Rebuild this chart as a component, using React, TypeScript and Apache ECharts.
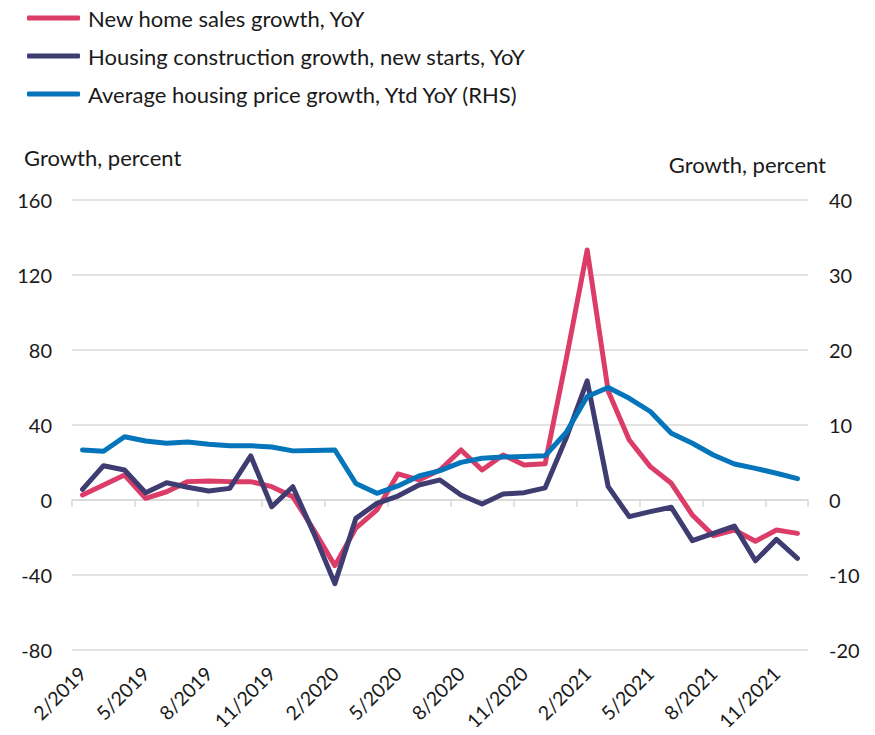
import React, { useEffect, useRef } from "react";
import * as echarts from "echarts";

const months: string[] = [
  "2/2019", "3/2019", "4/2019", "5/2019", "6/2019", "7/2019", "8/2019", "9/2019", "10/2019", "11/2019", "12/2019", "1/2020",
  "2/2020", "3/2020", "4/2020", "5/2020", "6/2020", "7/2020", "8/2020", "9/2020", "10/2020", "11/2020", "12/2020", "1/2021",
  "2/2021", "3/2021", "4/2021", "5/2021", "6/2021", "7/2021", "8/2021", "9/2021", "10/2021", "11/2021", "12/2021",
];

const newHomeSales: number[] = [
  2.7, 8, 13.3, 0.9, 4.4, 9.8, 10.1, 9.8, 9.8, 7.1, 1.8, -16,
  -35, -15, -5.3, 13.9, 10.7, 16, 26.7, 16, 24, 18.7, 19.3, 75,
  133.3, 58, 32, 17.8, 8.9, -8, -19, -16, -22, -16, -17.8,
];

const housingStarts: number[] = [
  5.7, 18.3, 16, 3.9, 9.2, 6.8, 4.8, 6.2, 23.5, -3.6, 7.1, -17.8,
  -44.6, -9.8, -1.8, 2.1, 8, 10.7, 2.7, -2.1, 3.2, 3.9, 6.5, 33,
  63.5, 7.1, -8.9, -6.2, -3.9, -21.7, -17.8, -13.9, -32.4, -21, -31.1,
];

const avgPrice: number[] = [
  6.67, 6.5, 8.44, 7.87, 7.56, 7.73, 7.42, 7.24, 7.24, 7.07, 6.55, 6.6,
  6.67, 2.2, 0.89, 1.87, 3.2, 3.91, 5.02, 5.56, 5.73, 5.8, 5.9, 9.0,
  13.8, 15.0, 13.56, 11.8, 8.89, 7.56, 6.0, 4.8, 4.22, 3.56, 2.84,
];

const seriesNames: string[] = [
  "New home sales growth, YoY",
  "Housing construction growth, new starts, YoY",
  "Average housing price growth, Ytd YoY (RHS)",
];

const axisTitle = "Growth, percent";

const colors: string[] = ["#DC3D68", "#3E3C70", "#0475BB"];

const FONT = "Lato, 'Noto Sans', sans-serif";
const TEXT = "#1a1a1a";
const GRID = "#d9d9d9";

export default function App() {
  const ref = useRef<HTMLDivElement>(null);

  useEffect(() => {
    if (!ref.current) return;
    const chart = echarts.init(ref.current, null, { renderer: "svg" });
    const line = (name: string, data: number[], color: string, yAxisIndex: number) => ({
      name,
      type: "line",
      data,
      xAxisIndex: 0,
      yAxisIndex,
      symbol: "none",
      smooth: false,
      lineStyle: { color, width: 5, join: "round", cap: "round" },
      itemStyle: { color },
      z: yAxisIndex === 1 ? 3 : 2,
    });
    chart.setOption({
      animation: false,
      textStyle: { fontFamily: FONT },
      color: colors,
      legend: {
        orient: "vertical",
        left: 27,
        top: 6,
        icon: "roundRect",
        itemWidth: 53,
        itemHeight: 5,
        itemGap: 14,
        padding: 0,
        data: seriesNames,
        textStyle: {
          fontFamily: FONT,
          fontSize: 22,
          color: TEXT,
          lineHeight: 24,
          padding: [0, 0, 0, 3],
        },
      },
      graphic: [
        {
          type: "text",
          left: 24,
          top: 146,
          style: { text: axisTitle, fontFamily: FONT, fontSize: 22, fill: TEXT },
        },
        {
          type: "text",
          right: 49,
          top: 153,
          style: { text: axisTitle, fontFamily: FONT, fontSize: 22, fill: TEXT },
        },
      ],
      grid: { left: 72, right: 67, top: 200, bottom: 85, containLabel: false },
      xAxis: [
        {
          type: "category",
          data: months,
          position: "bottom",
          boundaryGap: true,
          axisLine: { show: false, onZero: false },
          axisTick: { show: false },
          axisLabel: {
            interval: 2,
            rotate: 45,
            margin: 20,
            fontFamily: FONT,
            fontSize: 19.5,
            color: TEXT,
          },
          splitLine: { show: false },
        },
        {
          type: "category",
          data: months,
          position: "bottom",
          boundaryGap: true,
          axisLine: { show: true, onZero: true, onZeroAxisIndex: 0, lineStyle: { color: GRID, width: 1.5 } },
          axisTick: { show: true, interval: 2, length: 7, lineStyle: { color: GRID, width: 1.5 } },
          axisLabel: { show: false },
          splitLine: { show: false },
        },
      ],
      yAxis: [
        {
          type: "value",
          min: -80,
          max: 160,
          interval: 40,
          position: "left",
          axisLine: { show: false },
          axisTick: { show: false },
          axisLabel: { margin: 20, fontFamily: FONT, fontSize: 20, color: TEXT },
          splitLine: { show: true, lineStyle: { color: GRID, width: 1.5 } },
        },
        {
          type: "value",
          min: -20,
          max: 40,
          interval: 10,
          position: "right",
          axisLine: { show: false },
          axisTick: { show: false },
          axisLabel: { margin: 21, fontFamily: FONT, fontSize: 20, color: TEXT },
          splitLine: { show: false },
        },
      ],
      series: [
        line(seriesNames[0], newHomeSales, colors[0], 0),
        line(seriesNames[1], housingStarts, colors[1], 0),
        line(seriesNames[2], avgPrice, colors[2], 1),
      ],
    });
    return () => chart.dispose();
  }, []);

  return <div ref={ref} style={{ width: 875, height: 735, margin: -8 }} />;
}
